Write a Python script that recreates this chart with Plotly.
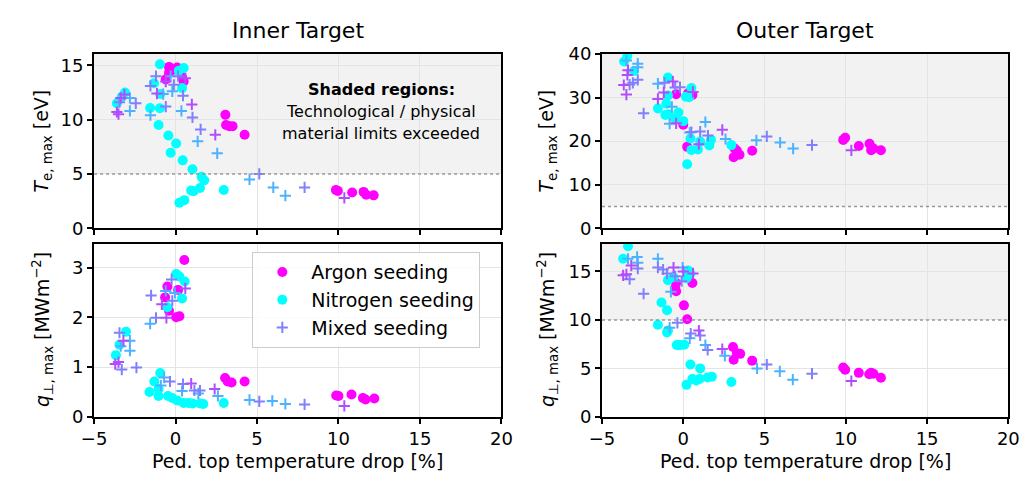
import plotly.graph_objects as go

# ---------------------------------------------------------------------------
# Data: peak target quantities vs. pedestal-top temperature drop [%]
# Mixed seeding points carry an argon fraction used for their colour.
# ---------------------------------------------------------------------------

# Inner target, T_e,max [eV]
ar_te_in_x = [-0.4, 0.1, -0.6, -0.4, 0.5, 0.4, -0.1, 3.06, 3.1, 3.3, 3.5, 4.24,
              9.84, 9.96, 10.84, 11.54, 11.7, 12.16]
ar_te_in_y = [14.85, 14.8, 13.7, 14.3, 13.5, 13.9, 14.6, 10.44, 9.5, 9.4, 9.4, 8.6,
              3.53, 3.44, 3.29, 3.35, 3.09, 3.03]
n2_te_in_x = [-0.96, 0.2, 0.5, -1.32, 0.4, -3.1, -3.3, -3.6, -0.94, -1.56, -0.96,
              -1.04, -0.44, 0.04, -0.3, 0.44, 1.04, 1.6, 1.76, 1.5, 0.96, 1.1, 2.96,
              0.24, 0.54]
n2_te_in_y = [15.1, 14.5, 14.75, 13.35, 12.9, 12.5, 12.1, 11.5, 12.35, 11.06, 11.05,
              9.5, 8.53, 7.8, 6.95, 6.25, 5.44, 4.74, 4.41, 3.7, 3.47, 3.41, 3.53,
              2.35, 2.59]
mx_te_in_x = [-1.2, -1.54, -0.6, -1.14, -0.76, -0.2, 0.16, 0.6, -0.1, -0.3, 0.46,
              -0.6, 0.36, 1.0, 1.04, -1.54, 1.54, 1.36, 2.44, 2.56, 4.54, 5.14, 6.0,
              6.74, 7.92, 10.36, -3.6, -3.5, -3.36, -3.14, -3.44, -2.8, -2.44, -2.8]
mx_te_in_y = [14.0, 13.1, 13.5, 12.4, 12.35, 12.6, 14.0, 13.8, 13.2, 14.0, 12.2,
              11.2, 10.8, 11.4, 10.2, 10.4, 9.1, 8.0, 8.6, 6.9, 4.5, 5.0, 3.76,
              3.0, 3.76, 2.79, 10.7, 10.5, 12.0, 12.3, 11.6, 10.8, 11.5, 12.0]
mx_te_in_f = [0.5, 0.5, 0.7, 0.7, 0.3, 0.3, 0.5, 0.7, 0.5, 0.3, 0.5,
              0.5, 0.3, 0.7, 0.5, 0.3, 0.5, 0.3, 0.7, 0.3, 0.3, 0.5, 0.3,
              0.3, 0.5, 0.7, 0.7, 0.7, 0.7, 0.7, 0.5, 0.3, 0.5, 0.3]

# Outer target, T_e,max [eV]
ar_te_out_x = [-0.44, 0.56, 0.3, 0.0, 0.24, 3.16, 3.3, 3.1, 3.46, 4.24, 9.84, 9.96,
               10.8, 11.46, 11.56, 11.7, 12.16]
ar_te_out_y = [30.8, 30.6, 31.0, 23.8, 18.7, 18.3, 17.8, 16.3, 16.9, 17.8, 20.3, 20.8,
               18.9, 19.4, 17.9, 18.3, 17.9]
n2_te_out_x = [-3.64, -3.44, -3.04, -0.94, 0.5, 0.16, 0.36, -0.94, -1.56, -1.04, -1.1,
               -0.9, -0.3, 0.0, 0.44, 1.04, 1.7, 1.6, 0.5, 0.9, 2.96, 0.24, -0.5]
n2_te_out_y = [38.3, 39.6, 36.1, 34.6, 32.2, 30.2, 30.1, 30.5, 27.5, 28.6, 26.0,
               26.2, 26.6, 24.6, 20.6, 19.9, 20.3, 19.0, 18.0, 18.1, 19.1, 14.7, 25.2]
mx_te_out_x = [-3.66, -3.5, -3.4, -3.44, -3.5, -2.8, -2.8, -2.8, -3.3, -3.1, -2.44,
               -1.56, -1.16, -0.64, -1.56, -1.2, -0.7, -0.84, -0.44, -0.2, -0.5, 0.6,
               0.4, 0.5, 1.04, 1.36, 1.52, 0.96, 2.4, 2.6, 4.5, 5.14, 5.96, 6.76,
               7.92, 10.34]
mx_te_out_y = [32.9, 30.7, 36.3, 35.2, 38.5, 37.8, 37.0, 34.1, 33.0, 33.4, 26.4,
               33.2, 33.4, 33.7, 29.7, 31.2, 27.9, 24.0, 24.1, 32.4, 32.3, 31.3,
               22.0, 22.1, 22.2, 24.4, 21.3, 19.3, 22.6, 20.5, 20.2, 21.1, 19.7, 18.3,
               19.1, 17.9]
mx_te_out_f = [0.7, 0.7, 0.7, 0.7, 0.3, 0.3, 0.3, 0.5, 0.5, 0.5, 0.5,
               0.3, 0.5, 0.7, 0.7, 0.7, 0.3, 0.3, 0.7, 0.5, 0.5, 0.7,
               0.3, 0.5, 0.5, 0.3, 0.5, 0.7, 0.7, 0.3, 0.3, 0.5, 0.3, 0.3,
               0.5, 0.7]

# Inner target, q_perp,max [MW m^-2]
ar_q_in_x = [0.54, -0.5, 0.16, -0.64, -0.4, 0.04, 0.24, 3.04, 3.2, 3.44, 4.24, 9.86,
             10.0, 10.8, 11.5, 11.66, 12.2]
ar_q_in_y = [3.15, 2.62, 2.55, 2.4, 2.13, 2.0, 2.02, 0.78, 0.71, 0.69, 0.71, 0.43,
             0.42, 0.45, 0.38, 0.35, 0.37]
n2_q_in_x = [0.04, 0.24, 0.56, 0.4, -0.5, -3.04, -3.44, -3.66, -0.94, -1.3, -1.6,
             -1.04, -1.04, -0.46, -0.2, 0.1, 0.5, 1.04, 1.5, 1.7, 2.96, 0.8]
n2_q_in_y = [2.87, 2.82, 2.72, 2.38, 2.2, 1.71, 1.45, 1.24, 0.88, 0.71, 0.5,
             0.42, 0.56, 0.42, 0.38, 0.33, 0.28, 0.27, 0.27, 0.26, 0.28, 0.28]
mx_q_in_x = [-0.24, -1.5, 0.6, -0.6, -0.04, -0.2, -0.84, -1.2, -0.56, -1.56, -3.44,
             -3.2, -2.8, -3.36, -2.8, -3.7, -3.5, -3.3, -2.4, -0.7, -0.34, -0.9,
             0.46, 0.96, 0.4, 1.16, 1.5, 1.4, 2.4, 2.6, 4.54, 5.14, 5.94, 6.74,
             7.92, 10.36]
mx_q_in_y = [2.76, 2.44, 2.58, 2.53, 2.49, 2.33, 2.26, 1.99, 1.99, 1.87, 1.69,
             1.53, 1.53, 1.42, 1.33, 1.06, 1.1, 0.95, 0.99, 0.79, 0.71, 0.63,
             0.66, 0.67, 0.52, 0.53, 0.53, 0.47, 0.56, 0.42, 0.34, 0.31, 0.32, 0.26,
             0.25, 0.22]
mx_q_in_f = [0.5, 0.5, 0.7, 0.3, 0.3, 0.5, 0.7, 0.5, 0.7, 0.3, 0.5,
             0.7, 0.3, 0.3, 0.3, 0.7, 0.7, 0.5, 0.5, 0.3, 0.5, 0.3,
             0.5, 0.7, 0.3, 0.5, 0.5, 0.3, 0.7, 0.3, 0.3, 0.5, 0.3, 0.3,
             0.5, 0.7]

# Outer target, q_perp,max [MW m^-2]
ar_q_out_x = [0.56, -0.44, -0.5, -0.44, 0.04, 0.24, 3.06, 3.3, 3.5, 3.1, 4.24, 9.84,
              9.96, 10.8, 11.44, 11.56, 11.7, 12.16]
ar_q_out_y = [13.8, 12.95, 13.3, 13.8, 11.5, 10.06, 7.2, 6.55, 6.5, 5.9, 5.8, 5.1,
              4.86, 4.54, 4.4, 4.55, 4.45, 4.04]
n2_q_out_x = [-3.4, -3.7, 0.3, 0.44, -0.94, 0.2, -1.34, -1.0, -1.56, -1.0, -0.94,
              -0.4, -0.2, 0.06, 0.44, 1.04, 0.56, 1.0, 1.5, 1.76, 0.8, 0.2, 2.96, -0.6]
n2_q_out_y = [17.6, 16.3, 15.1, 14.8, 14.1, 14.3, 11.8, 11.0, 9.5, 8.7, 8.9,
              7.4, 7.4, 7.45, 5.4, 5.0, 3.9, 3.9, 4.07, 4.14, 3.75, 3.3, 3.6, 14.4]
mx_q_out_x = [-3.4, -2.84, -2.8, -2.8, -3.2, -3.7, -3.5, -3.3, -2.44, -1.56, -1.56,
              -1.24, -0.6, -1.0, -0.04, 0.0, -0.5, 0.6, -0.76, -0.1, -0.36, -0.84,
              0.96, 0.46, 0.4, 1.04, 1.36, 1.5, 2.4, 2.56, 4.54, 5.14, 5.94, 6.74,
              7.92, 10.34]
mx_q_out_y = [16.3, 16.5, 15.9, 15.3, 15.6, 14.6, 14.7, 14.2, 12.7, 16.3, 15.4,
              15.2, 15.4, 14.8, 15.4, 15.0, 14.5, 14.8, 12.9, 14.0, 9.7, 9.2,
              8.9, 8.6, 8.1, 8.4, 7.4, 6.9, 7.0, 6.3, 5.0, 5.4, 4.7, 3.84,
              4.45, 3.7]
mx_q_out_f = [0.3, 0.3, 0.3, 0.5, 0.7, 0.7, 0.7, 0.5, 0.5, 0.3, 0.5,
              0.5, 0.7, 0.5, 0.3, 0.7, 0.5, 0.7, 0.3, 0.5, 0.5, 0.3,
              0.7, 0.5, 0.3, 0.5, 0.3, 0.5, 0.7, 0.3, 0.3, 0.5, 0.3, 0.3,
              0.5, 0.7]

# Operational limits (values above are shaded)
te_limit = 5.0
q_limit = 10.0

x_ticks = [-5, 0, 5, 10, 15, 20]
x_range = [-5, 20]

FONT = "DejaVu Sans"
ARGON = "#ff00ff"
NITROGEN = "#00ffff"


def cool(f):
    """matplotlib-style 'cool' colormap: cyan (0) -> magenta (1)."""
    r = round(255 * f)
    g = round(255 * (1 - f))
    return f"rgb({r},{g},255)"


W, H = 1034, 491
# panel pixel boxes: (left, right, top, bottom)
boxes = {
    1: (83, 500, 45, 227),
    2: (603, 1019, 45, 227),
    3: (83, 500, 243, 424),
    4: (603, 1019, 243, 424),
}

fig = go.Figure()

panels = [
    (1, ar_te_in_x, ar_te_in_y, n2_te_in_x, n2_te_in_y, mx_te_in_x, mx_te_in_y, mx_te_in_f),
    (2, ar_te_out_x, ar_te_out_y, n2_te_out_x, n2_te_out_y, mx_te_out_x, mx_te_out_y, mx_te_out_f),
    (3, ar_q_in_x, ar_q_in_y, n2_q_in_x, n2_q_in_y, mx_q_in_x, mx_q_in_y, mx_q_in_f),
    (4, ar_q_out_x, ar_q_out_y, n2_q_out_x, n2_q_out_y, mx_q_out_x, mx_q_out_y, mx_q_out_f),
]

for idx, ax, ay, nx, ny, mxx, mxy, mxf in panels:
    xa = "x" if idx == 1 else f"x{idx}"
    ya = "y" if idx == 1 else f"y{idx}"
    show = idx == 3
    fig.add_trace(go.Scatter(
        x=ax, y=ay, mode="markers", xaxis=xa, yaxis=ya,
        name="Argon seeding", legendgroup="ar", showlegend=show,
        marker=dict(color=ARGON, size=10, line=dict(width=0)),
    ))
    fig.add_trace(go.Scatter(
        x=nx, y=ny, mode="markers", xaxis=xa, yaxis=ya,
        name="Nitrogen seeding", legendgroup="n2", showlegend=show,
        marker=dict(color=NITROGEN, size=10, line=dict(width=0)),
    ))
    # mixed seeding split by argon fraction so each group gets its colour
    for frac in (0.3, 0.5, 0.7):
        sx = [x for x, f in zip(mxx, mxf) if f == frac]
        sy = [y for y, f in zip(mxy, mxf) if f == frac]
        fig.add_trace(go.Scatter(
            x=sx, y=sy, mode="markers", xaxis=xa, yaxis=ya,
            name="Mixed seeding", legendgroup="mx",
            showlegend=show and frac == 0.5,
            marker=dict(symbol="cross-thin", size=8, color=cool(frac),
                        line=dict(width=2, color=cool(frac))),
        ))

y_specs = {
    1: dict(range=[0, 16.03], tickvals=[0, 5, 10, 15], limit=te_limit),
    2: dict(range=[0, 40], tickvals=[0, 10, 20, 30, 40], limit=te_limit),
    3: dict(range=[0, 3.48], tickvals=[0, 1, 2, 3], limit=None),
    4: dict(range=[0, 17.87], tickvals=[0, 5, 10, 15], limit=q_limit),
}

axis_common = dict(
    showline=True, mirror=True, linecolor="black", linewidth=2,
    ticks="outside", ticklen=5, tickwidth=1.5, tickcolor="black",
    showgrid=True, gridcolor="#e4e4e4", gridwidth=1, zeroline=False,
    tickfont=dict(family=FONT, size=18, color="black"),
)

layout_axes = {}
shapes = []
for idx, (l, r, t, b) in boxes.items():
    xname = "xaxis" if idx == 1 else f"xaxis{idx}"
    yname = "yaxis" if idx == 1 else f"yaxis{idx}"
    xa = "x" if idx == 1 else f"x{idx}"
    ya = "y" if idx == 1 else f"y{idx}"
    spec = y_specs[idx]
    layout_axes[xname] = dict(
        axis_common, domain=[l / W, r / W], range=x_range, tickvals=x_ticks,
        anchor=ya, showticklabels=idx in (3, 4),
    )
    layout_axes[yname] = dict(
        axis_common, domain=[1 - b / H, 1 - t / H], range=spec["range"],
        tickvals=spec["tickvals"], anchor=xa,
    )
    if spec["limit"] is not None:
        shapes.append(dict(
            type="rect", xref=f"{xa} domain", yref=ya, x0=0, x1=1,
            y0=spec["limit"], y1=spec["range"][1],
            fillcolor="#f2f2f2", line=dict(width=0), layer="below",
        ))
        shapes.append(dict(
            type="line", xref=f"{xa} domain", yref=ya, x0=0, x1=1,
            y0=spec["limit"], y1=spec["limit"],
            line=dict(color="#999999", width=1.5, dash="dot"), layer="above",
        ))

annotations = []


def ann(text, px, py, size, angle=0, **kw):
    annotations.append(dict(
        text=text, x=px / W, y=1 - py / H, xref="paper", yref="paper",
        showarrow=False, textangle=angle, xanchor="center", yanchor="middle",
        font=dict(family=FONT, size=size, color="black"), **kw,
    ))


ann("Inner Target", 291.5, 20, 22)
ann("Outer Target", 811, 20, 22)
ann("<i>T</i><sub>e, max</sub> [eV]", 30, 136, 19, angle=-90)
ann("<i>q</i><sub>⊥, max</sub> [MWm<sup>−2</sup>]", 30, 333, 19, angle=-90)
ann("<i>T</i><sub>e, max</sub> [eV]", 547, 136, 19, angle=-90)
ann("<i>q</i><sub>⊥, max</sub> [MWm<sup>−2</sup>]", 547, 333, 19, angle=-90)
ann("Ped. top temperature drop [%]", 291.5, 470, 19)
ann("Ped. top temperature drop [%]", 811, 470, 19)
ann("<b>Shaded regions:</b>", 377, 82, 16)
ann("Technological / physical", 377, 105, 16)
ann("material limits exceeded", 377, 128, 16)

fig.update_layout(
    width=W, height=H,
    margin=dict(l=0, r=0, t=0, b=0),
    paper_bgcolor="white", plot_bgcolor="white",
    font=dict(family=FONT, color="black"),
    shapes=shapes, annotations=annotations,
    legend=dict(
        x=245 / W, y=1 - 252 / H, xanchor="left", yanchor="top",
        font=dict(family=FONT, size=19, color="black"),
        bgcolor="rgba(255,255,255,0.85)", bordercolor="#cccccc", borderwidth=1,
        tracegroupgap=0, itemwidth=48,
    ),
    **layout_axes,
)

fig.write_html("out.html")
